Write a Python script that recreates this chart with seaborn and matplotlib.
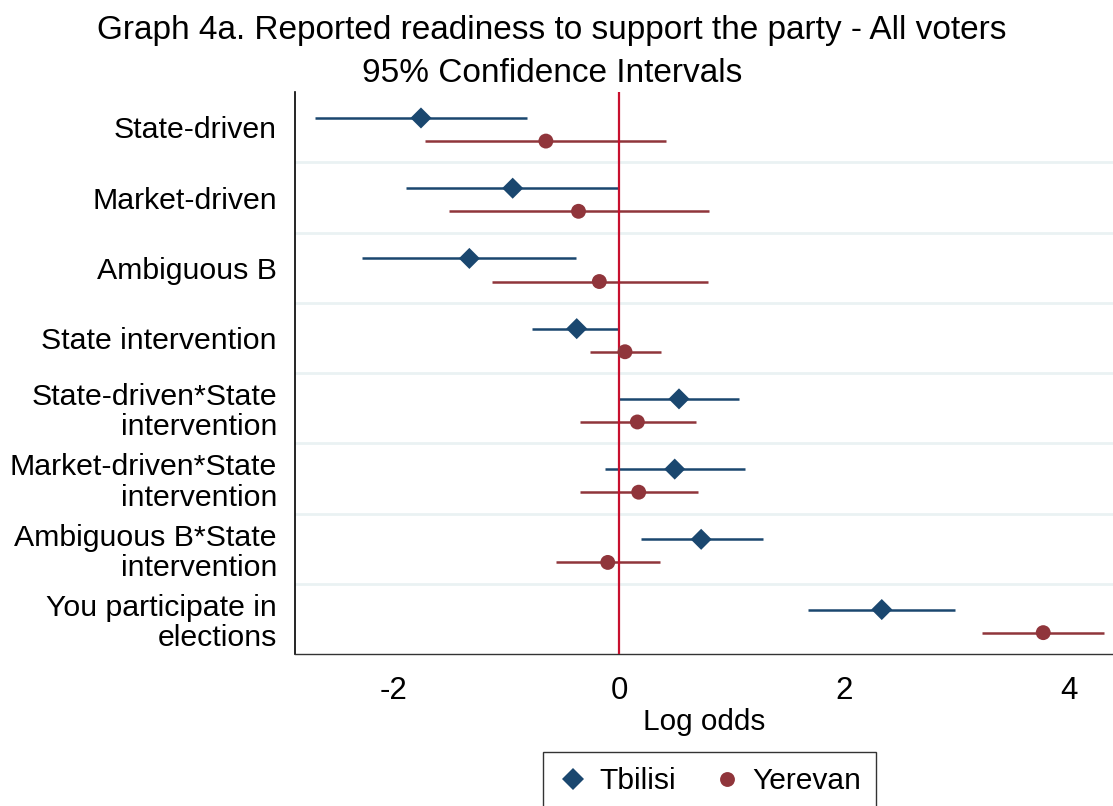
import numpy as np
import pandas as pd
import seaborn as sns
import matplotlib.pyplot as plt
from matplotlib.lines import Line2D

# coefficients (log odds, 95% CI)
terms = ['State-driven', 'Market-driven', 'Ambiguous B', 'State intervention',
         'State-driven*State\nintervention', 'Market-driven*State\nintervention',
         'Ambiguous B*State\nintervention', 'You participate in\nelections']

tbilisi_est = [-1.76, -0.945, -1.33, -0.376, 0.533, 0.495, 0.73, 2.335]
tbilisi_lo = [-2.70, -1.89, -2.28, -0.77, 0.0, -0.127, 0.196, 1.68]
tbilisi_hi = [-0.82, 0.0, -0.38, 0.0, 1.07, 1.12, 1.28, 2.99]

yerevan_est = [-0.65, -0.36, -0.175, 0.053, 0.163, 0.175, -0.10, 3.77]
yerevan_lo = [-1.72, -1.51, -1.13, -0.26, -0.35, -0.35, -0.56, 3.23]
yerevan_hi = [0.42, 0.80, 0.79, 0.373, 0.68, 0.705, 0.364, 4.31]

xticks = [-2, 0, 2, 4]

palette = {'Tbilisi': '#1a476f', 'Yerevan': '#90353b'}
markers = {'Tbilisi': 'D', 'Yerevan': 'o'}
offsets = {'Tbilisi': -0.133, 'Yerevan': 0.196}

rows = []
for city, est, lo, hi in [('Tbilisi', tbilisi_est, tbilisi_lo, tbilisi_hi),
                          ('Yerevan', yerevan_est, yerevan_lo, yerevan_hi)]:
    for i, t in enumerate(terms):
        rows.append({'term': t, 'city': city, 'est': est[i], 'lo': lo[i], 'hi': hi[i],
                     'ypos': i + offsets[city]})
df = pd.DataFrame(rows)

sns.set_style('white')
plt.rcParams['font.family'] = ['Liberation Sans', 'DejaVu Sans']
plt.rcParams['text.color'] = 'black'
plt.rcParams['xtick.color'] = 'black'
plt.rcParams['ytick.color'] = 'black'
plt.rcParams['axes.labelcolor'] = 'black'

fig = plt.figure(figsize=(11.13, 8.06), dpi=100)
ax = fig.add_axes([0.265, 0.1886, 0.735, 0.697])

# row separators
for b in np.arange(0.5, len(terms) - 1, 1.0):
    ax.axhline(b, color='#eaf2f3', lw=2, zorder=0)

ax.hlines(df['ypos'], df['lo'], df['hi'], colors=df['city'].map(palette), lw=1.8, zorder=2)
ax.axvline(0, color='#c8102e', lw=1.6, zorder=3)

sns.scatterplot(data=df, x='est', y='ypos', hue='city', style='city',
                palette=palette, markers=markers, s=115, linewidth=0,
                legend=False, ax=ax, zorder=4)

ax.set_ylim(len(terms) - 0.5, -0.5)
ax.set_xlim(-2.88, 4.39)
ax.set_yticks(range(len(terms)))
ax.set_yticklabels(terms, fontsize=21.8, linespacing=1.1)
ax.set_xticks(xticks)
ax.set_xticklabels([str(v) for v in xticks], fontsize=22.5)
ax.tick_params(axis='y', length=0, pad=13)
ax.tick_params(axis='x', length=8.5, width=1, color='#333333', direction='out', pad=7)
ax.set_xlabel('Log odds', fontsize=21.4, labelpad=2)
ax.set_ylabel('')

sns.despine(ax=ax, top=True, right=True)
ax.spines['left'].set_color('black')
ax.spines['bottom'].set_color('#333333')
ax.spines['left'].set_linewidth(1.2)
ax.spines['bottom'].set_linewidth(1.0)

fig.text(0.496, 0.962, 'Graph 4a. Reported readiness to support the party - All voters',
         ha='center', va='center', fontsize=24)
fig.text(0.496, 0.909, '95% Confidence Intervals', ha='center', va='center', fontsize=24)

handles = [Line2D([], [], marker=markers[c], ls='', color=palette[c], markersize=10.7,
                  markeredgewidth=0, label=c) for c in ['Tbilisi', 'Yerevan']]
leg = ax.legend(handles=handles, loc='upper center', bbox_to_anchor=(0.507, -0.1745),
                ncol=2, frameon=True, fancybox=False, fontsize=21.6, handlelength=1.0,
                handletextpad=0.35, columnspacing=1.2, borderpad=0.5, borderaxespad=0)
leg.get_frame().set_edgecolor('black')
leg.get_frame().set_linewidth(1.0)

fig.savefig('out.png', dpi=100)
